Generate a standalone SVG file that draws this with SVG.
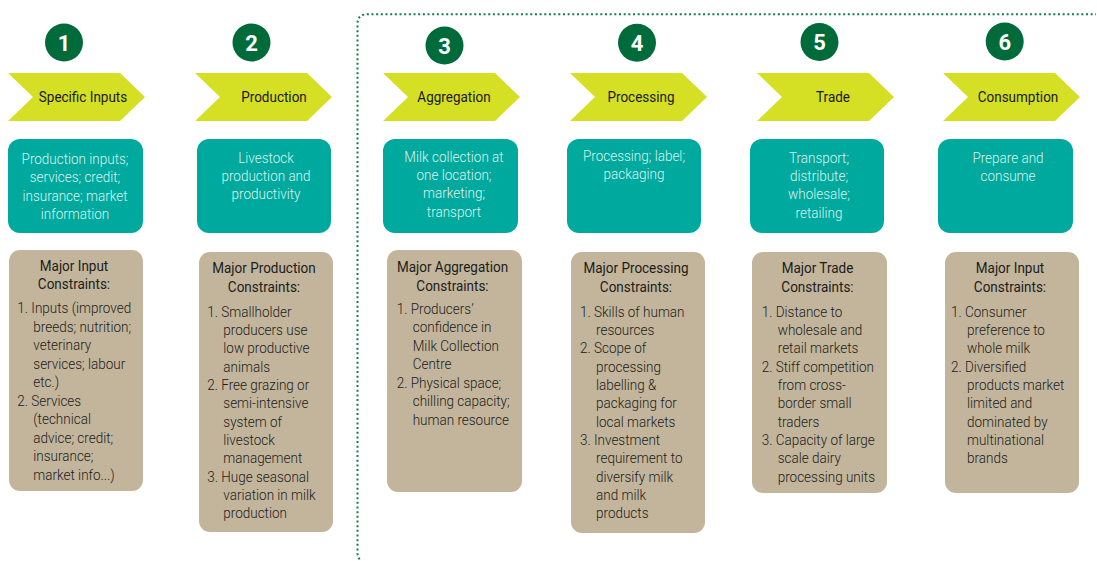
<svg xmlns="http://www.w3.org/2000/svg" width="1097" height="561" viewBox="0 0 1097 561">
  <defs>
    <style>
      .num { fill: #006b3a; }
      .num-t { font-family: Roboto, "Liberation Sans", sans-serif; font-weight: 700; font-size: 22px; fill: #ffffff; text-anchor: middle; }
      .chev { fill: #d5df24; }
      .chev-t { font-family: Roboto, "Liberation Sans", sans-serif; font-weight: 400; font-size: 15px; fill: #1a1a1a; text-anchor: middle; }
      .act { fill: #00a99d; }
      .act-t { font-family: Roboto, "Liberation Sans", sans-serif; font-weight: 300; font-size: 15px; fill: #dcf3ee; text-anchor: middle; }
      .con { fill: #c2b59b; }
      .con-h { font-family: Roboto, "Liberation Sans", sans-serif; font-weight: 400; font-size: 15px; fill: #1c1c1c; text-anchor: middle; }
      .con-t { font-family: Roboto, "Liberation Sans", sans-serif; font-weight: 300; font-size: 15px; fill: #1c1c1c; }
      .boundary { fill: none; stroke: #127c4b; stroke-width: 2; stroke-dasharray: 2 2.67; }
    </style>
  </defs>

  <rect width="1097" height="561" fill="#ffffff"/>

  <!-- dotted boundary around stages 3-6 -->
  <g id="stage-boundary">
    <path class="boundary" d="M 359.5 559.5 L 357.5 554 L 357.5 24 Q 357.5 14.3 367.5 14.3 L 1096 14.3"/>
  </g>

  <!-- ===== Stage 1 ===== -->
  <g id="step-1">
    <circle class="num" cx="64" cy="42.5" r="19"/>
    <text class="num-t" x="64" y="50.5">1</text>
  </g>
  <g id="stage-1">
    <path class="chev" d="M 8 73 L 120 73 L 145 97 L 120 121 L 8 121 L 33 97 Z"/>
    <g transform="translate(83 0) scale(0.9 1)"><text class="chev-t" x="0" y="102">Specific Inputs</text></g>
  </g>
  <g id="activity-1">
    <rect class="act" x="8" y="139" width="135" height="94" rx="12"/>
    <g transform="translate(75 0) scale(0.9 1)">
      <text class="act-t"><tspan x="0" y="164">Production inputs;</tspan><tspan x="0" dy="18.3">services; credit;</tspan><tspan x="0" dy="18.3">insurance; market</tspan><tspan x="0" dy="18.3">information</tspan></text>
    </g>
  </g>
  <g id="constraints-1">
    <rect class="con" x="9" y="250" width="134" height="241" rx="11"/>
    <g transform="translate(74 0) scale(0.9 1)">
      <text class="con-h"><tspan x="0" y="271">Major Input</tspan><tspan x="0" dy="18.4">Constraints:</tspan></text>
    </g>
    <g transform="translate(17.3 0) scale(0.9 1)">
      <text class="con-t"><tspan x="0" y="313.3">1. Inputs (improved</tspan><tspan x="17.8" dy="18.5">breeds; nutrition;</tspan><tspan x="17.8" dy="18.5">veterinary</tspan><tspan x="17.8" dy="18.5">services; labour</tspan><tspan x="17.8" dy="18.5">etc.)</tspan><tspan x="0" dy="18.5">2. Services</tspan><tspan x="17.8" dy="18.5">(technical</tspan><tspan x="17.8" dy="18.5">advice; credit;</tspan><tspan x="17.8" dy="18.5">insurance;</tspan><tspan x="17.8" dy="18.5">market info...)</tspan></text>
    </g>
  </g>

  <!-- ===== Stage 2 ===== -->
  <g id="step-2">
    <circle class="num" cx="251.5" cy="42.5" r="19"/>
    <text class="num-t" x="251.5" y="50.5">2</text>
  </g>
  <g id="stage-2">
    <path class="chev" d="M 195 73 L 307 73 L 332 97 L 307 121 L 195 121 L 220 97 Z"/>
    <g transform="translate(274 0) scale(0.9 1)"><text class="chev-t" x="0" y="102">Production</text></g>
  </g>
  <g id="activity-2">
    <rect class="act" x="197" y="139" width="134" height="94" rx="12"/>
    <g transform="translate(266 0) scale(0.9 1)">
      <text class="act-t"><tspan x="0" y="162.7">Livestock</tspan><tspan x="0" dy="18.3">production and</tspan><tspan x="0" dy="18.3">productivity</tspan></text>
    </g>
  </g>
  <g id="constraints-2">
    <rect class="con" x="199" y="252" width="134" height="280" rx="11"/>
    <g transform="translate(264 0) scale(0.9 1)">
      <text class="con-h"><tspan x="0" y="273.3">Major Production</tspan><tspan x="0" dy="18.4">Constraints:</tspan></text>
    </g>
    <g transform="translate(207.3 0) scale(0.9 1)">
      <text class="con-t"><tspan x="0" y="316.7">1. Smallholder</tspan><tspan x="17.8" dy="18.33">producers use</tspan><tspan x="17.8" dy="18.33">low productive</tspan><tspan x="17.8" dy="18.33">animals</tspan><tspan x="0" dy="18.33">2. Free grazing or</tspan><tspan x="17.8" dy="18.33">semi-intensive</tspan><tspan x="17.8" dy="18.33">system of</tspan><tspan x="17.8" dy="18.33">livestock</tspan><tspan x="17.8" dy="18.33">management</tspan><tspan x="0" dy="18.33">3. Huge seasonal</tspan><tspan x="17.8" dy="18.33">variation in milk</tspan><tspan x="17.8" dy="18.33">production</tspan></text>
    </g>
  </g>

  <!-- ===== Stage 3 ===== -->
  <g id="step-3">
    <circle class="num" cx="444.5" cy="45.5" r="19"/>
    <text class="num-t" x="444.5" y="53.5">3</text>
  </g>
  <g id="stage-3">
    <path class="chev" d="M 383 73 L 495 73 L 520 97 L 495 121 L 383 121 L 408 97 Z"/>
    <g transform="translate(454 0) scale(0.9 1)"><text class="chev-t" x="0" y="102">Aggregation</text></g>
  </g>
  <g id="activity-3">
    <rect class="act" x="383" y="139" width="135" height="94" rx="12"/>
    <g transform="translate(454 0) scale(0.9 1)">
      <text class="act-t"><tspan x="0" y="161.7">Milk collection at</tspan><tspan x="0" dy="18.3">one location;</tspan><tspan x="0" dy="18.3">marketing;</tspan><tspan x="0" dy="18.3">transport</tspan></text>
    </g>
  </g>
  <g id="constraints-3">
    <rect class="con" x="387" y="250" width="135" height="242" rx="11"/>
    <g transform="translate(452.5 0) scale(0.9 1)">
      <text class="con-h"><tspan x="0" y="272.3">Major Aggregation</tspan><tspan x="0" dy="18.4">Constraints:</tspan></text>
    </g>
    <g transform="translate(396.7 0) scale(0.9 1)">
      <text class="con-t"><tspan x="0" y="314">1. Producers’</tspan><tspan x="17.8" dy="18.5">confidence in</tspan><tspan x="17.8" dy="18.5">Milk Collection</tspan><tspan x="17.8" dy="18.5">Centre</tspan><tspan x="0" dy="18.5">2. Physical space;</tspan><tspan x="17.8" dy="18.5">chilling capacity;</tspan><tspan x="17.8" dy="18.5">human resource</tspan></text>
    </g>
  </g>

  <!-- ===== Stage 4 ===== -->
  <g id="step-4">
    <circle class="num" cx="637" cy="42.8" r="19"/>
    <text class="num-t" x="637" y="50.8">4</text>
  </g>
  <g id="stage-4">
    <path class="chev" d="M 570 73 L 682 73 L 707 97 L 682 121 L 570 121 L 595 97 Z"/>
    <g transform="translate(641 0) scale(0.9 1)"><text class="chev-t" x="0" y="102">Processing</text></g>
  </g>
  <g id="activity-4">
    <rect class="act" x="567" y="139" width="134" height="94" rx="12"/>
    <g transform="translate(634 0) scale(0.9 1)">
      <text class="act-t"><tspan x="0" y="160.7">Processing; label;</tspan><tspan x="0" dy="18.3">packaging</tspan></text>
    </g>
  </g>
  <g id="constraints-4">
    <rect class="con" x="571" y="252" width="134" height="281" rx="11"/>
    <g transform="translate(636 0) scale(0.9 1)">
      <text class="con-h"><tspan x="0" y="273.3">Major Processing</tspan><tspan x="0" dy="18.4">Constraints:</tspan></text>
    </g>
    <g transform="translate(580 0) scale(0.9 1)">
      <text class="con-t"><tspan x="0" y="316.7">1. Skills of human</tspan><tspan x="17.8" dy="18.33">resources</tspan><tspan x="0" dy="18.33">2. Scope of</tspan><tspan x="17.8" dy="18.33">processing</tspan><tspan x="17.8" dy="18.33">labelling &amp;</tspan><tspan x="17.8" dy="18.33">packaging for</tspan><tspan x="17.8" dy="18.33">local markets</tspan><tspan x="0" dy="18.33">3. Investment</tspan><tspan x="17.8" dy="18.33">requirement to</tspan><tspan x="17.8" dy="18.33">diversify milk</tspan><tspan x="17.8" dy="18.33">and milk</tspan><tspan x="17.8" dy="18.33">products</tspan></text>
    </g>
  </g>

  <!-- ===== Stage 5 ===== -->
  <g id="step-5">
    <circle class="num" cx="819.5" cy="42" r="19"/>
    <text class="num-t" x="819.5" y="50">5</text>
  </g>
  <g id="stage-5">
    <path class="chev" d="M 757 73 L 869 73 L 894 97 L 869 121 L 757 121 L 782 97 Z"/>
    <g transform="translate(833 0) scale(0.9 1)"><text class="chev-t" x="0" y="102">Trade</text></g>
  </g>
  <g id="activity-5">
    <rect class="act" x="750" y="139" width="134" height="94" rx="12"/>
    <g transform="translate(819 0) scale(0.9 1)">
      <text class="act-t"><tspan x="0" y="162.7">Transport;</tspan><tspan x="0" dy="18.3">distribute;</tspan><tspan x="0" dy="18.3">wholesale;</tspan><tspan x="0" dy="18.3">retailing</tspan></text>
    </g>
  </g>
  <g id="constraints-5">
    <rect class="con" x="752" y="252" width="135" height="241" rx="11"/>
    <g transform="translate(817.5 0) scale(0.9 1)">
      <text class="con-h"><tspan x="0" y="273.3">Major Trade</tspan><tspan x="0" dy="18.4">Constraints:</tspan></text>
    </g>
    <g transform="translate(761.7 0) scale(0.9 1)">
      <text class="con-t"><tspan x="0" y="316.7">1. Distance to</tspan><tspan x="17.8" dy="18.33">wholesale and</tspan><tspan x="17.8" dy="18.33">retail markets</tspan><tspan x="0" dy="18.33">2. Stiff competition</tspan><tspan x="17.8" dy="18.33">from cross-</tspan><tspan x="17.8" dy="18.33">border small</tspan><tspan x="17.8" dy="18.33">traders</tspan><tspan x="0" dy="18.33">3. Capacity of large</tspan><tspan x="17.8" dy="18.33">scale dairy</tspan><tspan x="17.8" dy="18.33">processing units</tspan></text>
    </g>
  </g>

  <!-- ===== Stage 6 ===== -->
  <g id="step-6">
    <circle class="num" cx="1004.7" cy="41.5" r="19"/>
    <text class="num-t" x="1004.7" y="49.5">6</text>
  </g>
  <g id="stage-6">
    <path class="chev" d="M 943 73 L 1055 73 L 1080 97 L 1055 121 L 943 121 L 968 97 Z"/>
    <g transform="translate(1018 0) scale(0.9 1)"><text class="chev-t" x="0" y="102">Consumption</text></g>
  </g>
  <g id="activity-6">
    <rect class="act" x="938" y="139" width="135" height="94" rx="12"/>
    <g transform="translate(1008 0) scale(0.9 1)">
      <text class="act-t"><tspan x="0" y="162.7">Prepare and</tspan><tspan x="0" dy="18.3">consume</tspan></text>
    </g>
  </g>
  <g id="constraints-6">
    <rect class="con" x="945" y="252" width="134" height="241" rx="11"/>
    <g transform="translate(1010 0) scale(0.9 1)">
      <text class="con-h"><tspan x="0" y="273.3">Major Input</tspan><tspan x="0" dy="18.4">Constraints:</tspan></text>
    </g>
    <g transform="translate(951 0) scale(0.9 1)">
      <text class="con-t"><tspan x="0" y="316.7">1. Consumer</tspan><tspan x="17.8" dy="18.33">preference to</tspan><tspan x="17.8" dy="18.33">whole milk</tspan><tspan x="0" dy="18.33">2. Diversified</tspan><tspan x="17.8" dy="18.33">products market</tspan><tspan x="17.8" dy="18.33">limited and</tspan><tspan x="17.8" dy="18.33">dominated by</tspan><tspan x="17.8" dy="18.33">multinational</tspan><tspan x="17.8" dy="18.33">brands</tspan></text>
    </g>
  </g>
</svg>
